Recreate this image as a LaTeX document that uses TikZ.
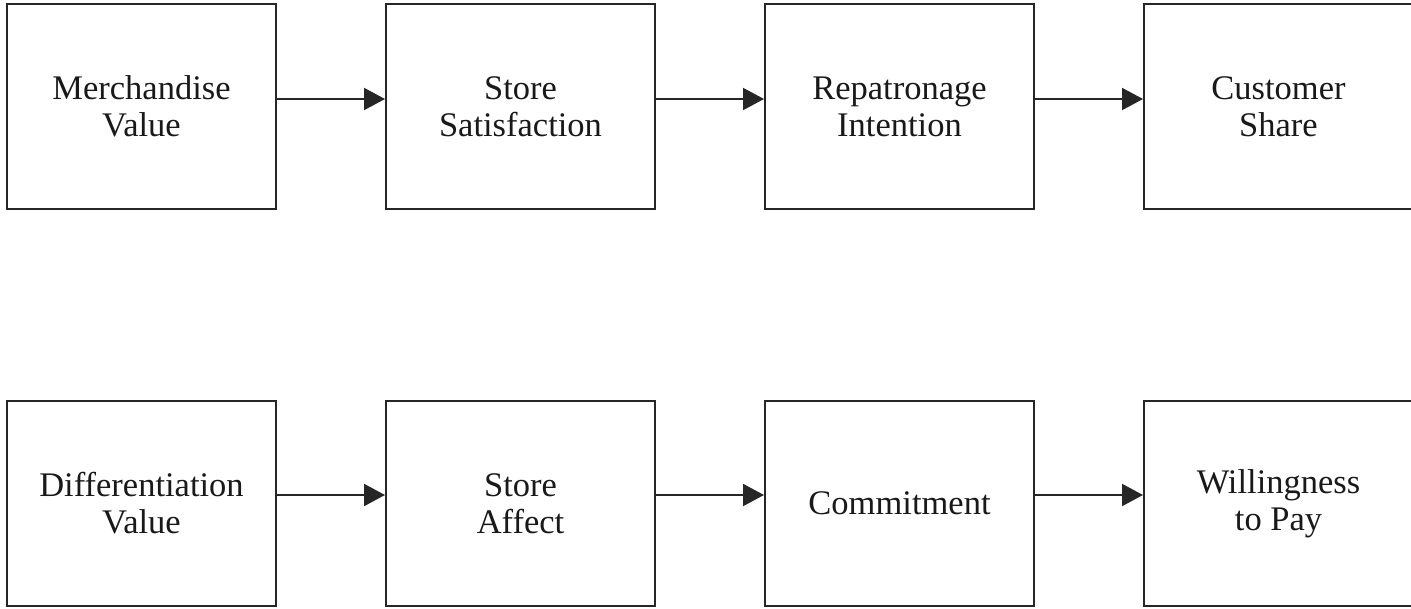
\documentclass[tikz,border=0pt]{standalone}
\usepackage{fontspec}
\setmainfont{Liberation Serif}
\usetikzlibrary{arrows.meta}
\begin{document}
\begin{tikzpicture}[x=1pt,y=-1pt,
  stagebox/.style={draw=black!85,line width=2pt,minimum width=269pt,minimum height=205pt,
    inner sep=0pt,align=center,font=\fontsize{34.5}{37}\selectfont,text=black!90},
  flow/.style={line width=2pt,draw=black!85,-{Triangle[length=21pt,width=22pt]}}]
\useasboundingbox (0,0) rectangle (1411,608);
% top chain
\node[stagebox] (mv) at (141.5,106.5) {Merchandise\\Value};
\node[stagebox] (ss) at (520.5,106.5) {Store\\Satisfaction};
\node[stagebox] (ri) at (899.5,106.5) {Repatronage\\Intention};
\node[stagebox] (cs) at (1278.5,106.5) {Customer\\Share};
% bottom chain
\node[stagebox] (dv) at (141.5,503.5) {Differentiation\\Value};
\node[stagebox] (sa) at (520.5,503.5) {Store\\Affect};
\node[stagebox] (cm) at (899.5,503.5) {Commitment};
\node[stagebox] (wp) at (1278.5,503.5) {Willingness\\to Pay};
% connectors
\draw[flow] (mv.east |- 0,99) -- (ss.west |- 0,99);
\draw[flow] (ss.east |- 0,99) -- (ri.west |- 0,99);
\draw[flow] (ri.east |- 0,99) -- (cs.west |- 0,99);
\draw[flow] (dv.east |- 0,495) -- (sa.west |- 0,495);
\draw[flow] (sa.east |- 0,495) -- (cm.west |- 0,495);
\draw[flow] (cm.east |- 0,495) -- (wp.west |- 0,495);
\end{tikzpicture}
\end{document}
